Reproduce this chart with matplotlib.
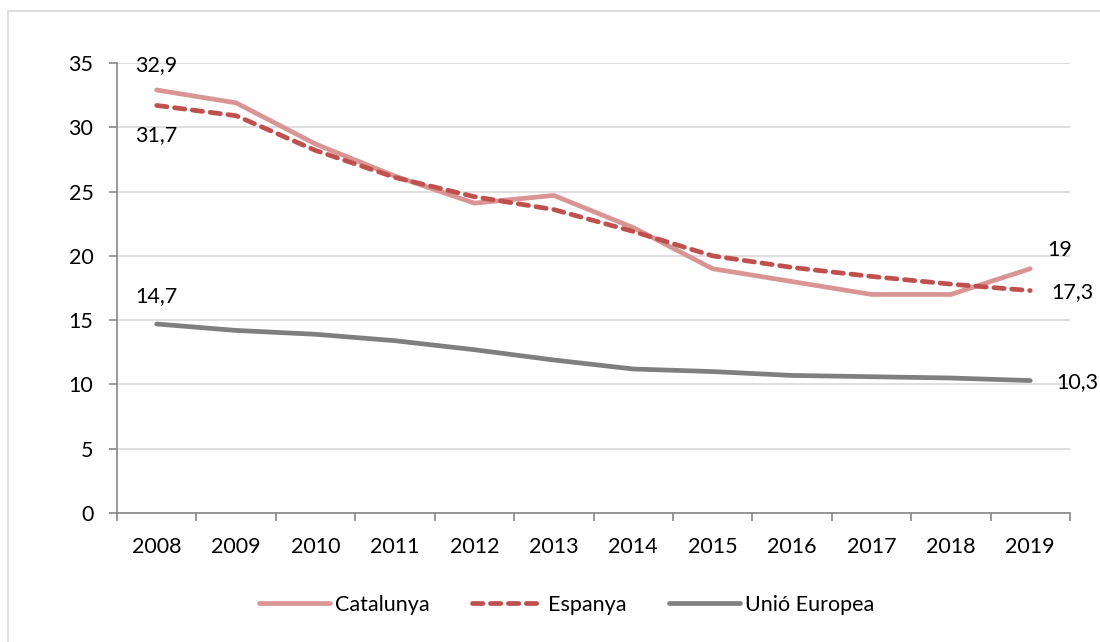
import numpy as np
import matplotlib.pyplot as plt
from matplotlib.lines import Line2D

# Data
years = ['2008', '2009', '2010', '2011', '2012', '2013', '2014', '2015', '2016', '2017', '2018', '2019']
catalunya = [32.9, 31.9, 28.7, 26.2, 24.1, 24.7, 22.2, 19.0, 18.0, 17.0, 17.0, 19.0]
espanya = [31.7, 30.9, 28.2, 26.1, 24.6, 23.6, 21.9, 20.0, 19.1, 18.4, 17.8, 17.3]
ue = [14.7, 14.2, 13.9, 13.4, 12.7, 11.9, 11.2, 11.0, 10.7, 10.6, 10.5, 10.3]
series_names = ['Catalunya', 'Espanya', 'Unió Europea']

plt.rcParams['font.family'] = ['Lato', 'DejaVu Sans']

fig = plt.figure(figsize=(11, 6.42), dpi=100)
ax = fig.add_axes([117 / 1100, 1 - 513 / 642, (1070 - 117) / 1100, 450 / 642])

# light border around the chart area (runs off right/bottom edge)
fig.patches.append(plt.Rectangle((8 / 1100, -0.1), 1.2, 1 - 11 / 642 + 0.1,
                                 transform=fig.transFigure, fill=False,
                                 edgecolor='#d9d9d9', linewidth=1.2))

x = np.arange(len(years))
ax.plot(x, catalunya, color='#D99594', lw=3.4, solid_capstyle='round', label=series_names[0], zorder=3)
ax.plot(x, espanya, color='#C0504D', lw=3.4, ls=(0, (2.2, 1.6)), dash_capstyle='round', label=series_names[1], zorder=4)
ax.plot(x, ue, color='#7F7F7F', lw=3.4, solid_capstyle='round', label=series_names[2], zorder=3)

ax.set_xlim(-0.5, len(years) - 0.5)
ax.set_ylim(0, 35)
ax.set_yticks(range(0, 36, 5))
ax.yaxis.grid(True, color='#d9d9d9', lw=1.2)
ax.set_axisbelow(True)

fs = 15.5
ax.set_xticks(x)
ax.set_xticklabels(years)
ax.set_xticks(np.arange(-0.5, len(years), 1), minor=True)
ax.tick_params(axis='x', which='major', length=0, pad=17, labelsize=fs)
ax.tick_params(axis='x', which='minor', length=6, color='#868686', width=1.2, direction='out')
ax.tick_params(axis='y', length=6, color='#868686', width=1.2, labelsize=fs, pad=11)

for s in ['top', 'right']:
    ax.spines[s].set_visible(False)
for s in ['left', 'bottom']:
    ax.spines[s].set_color('#868686')
    ax.spines[s].set_linewidth(1.2)

# data labels
ax.annotate('32,9', (0, catalunya[0]), xytext=(0, 11), textcoords='offset points', ha='center', va='bottom', fontsize=fs)
ax.annotate('31,7', (0, espanya[0]), xytext=(0, -14), textcoords='offset points', ha='center', va='top', fontsize=fs)
ax.annotate('14,7', (0, ue[0]), xytext=(0, 13), textcoords='offset points', ha='center', va='bottom', fontsize=fs)
ax.annotate('19', (11, catalunya[-1]), xytext=(12, 6), textcoords='offset points', ha='left', va='bottom', fontsize=fs)
ax.annotate('17,3', (11, espanya[-1]), xytext=(15, -1), textcoords='offset points', ha='left', va='center', fontsize=fs)
ax.annotate('10,3', (11, ue[-1]), xytext=(19, -1), textcoords='offset points', ha='left', va='center', fontsize=fs)

handles = [
    Line2D([], [], color='#D99594', lw=3.4, solid_capstyle='round'),
    Line2D([], [], color='#C0504D', lw=3.4, ls=(0, (2.2, 1.6)), dash_capstyle='round'),
    Line2D([], [], color='#7F7F7F', lw=3.4, solid_capstyle='round'),
]
fig.legend(handles, series_names, loc='center', bbox_to_anchor=(0.515, 1 - 605 / 642),
           ncol=3, frameon=False, fontsize=fs, handlelength=3.3, handletextpad=0.2,
           columnspacing=2.0)

fig.savefig('out.png', dpi=100)
